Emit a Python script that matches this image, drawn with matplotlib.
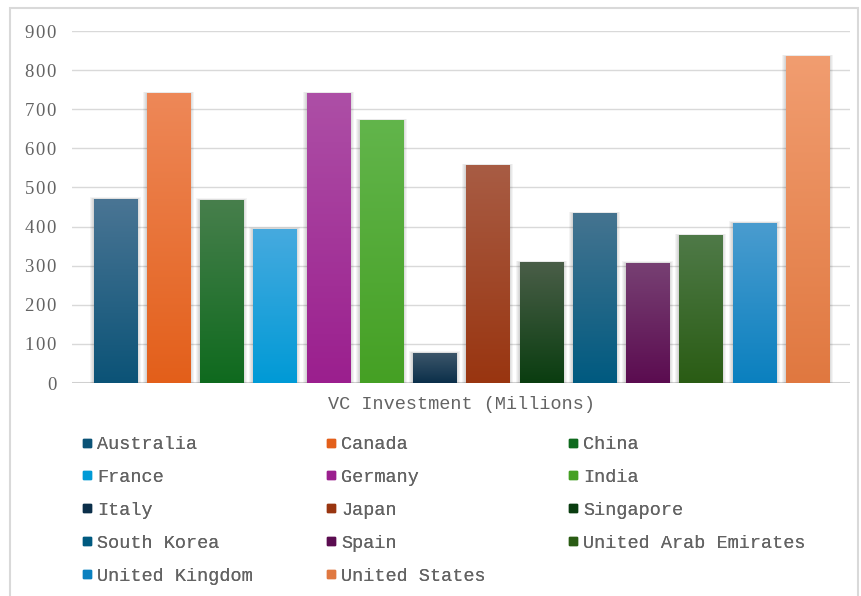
import numpy as np
import matplotlib
matplotlib.use("Agg")
import matplotlib.pyplot as plt
from matplotlib.colors import LinearSegmentedColormap
from matplotlib.lines import Line2D
from matplotlib.patches import Rectangle
from matplotlib.ticker import FuncFormatter

countries = ["Australia", "Canada", "China", "France", "Germany", "India", "Italy",
             "Japan", "Singapore", "South Korea", "Spain", "United Arab Emirates",
             "United Kingdom", "United States"]
investment = [470, 740, 467, 393, 740, 671, 76, 556, 308, 433, 306, 377, 408, 834]

top_colors = ["#4a7594", "#ee8858", "#477f4c", "#46aadf", "#ad4fa6", "#62b54b", "#3c566a",
              "#a85c44", "#4a5e48", "#457490", "#774073", "#4f7a48", "#4a9ccf", "#f19d70"]
bottom_colors = ["#0b5377", "#e35f1a", "#0f6a1e", "#009ad6", "#9b1f8e", "#45a024", "#0b2f4a",
                 "#993510", "#0a3d10", "#005a80", "#5b0c50", "#2a5c14", "#0a80bf", "#e07840"]

W, H = 861, 596
grey_text = "#636363"
mono = "Liberation Mono"
serif = ["Liberation Serif", "DejaVu Serif"]

fig = plt.figure(figsize=(W / 100, H / 100), dpi=100)
ax = fig.add_axes([72 / W, 1 - 383 / H, (850 - 72) / W, (383 - 31) / H])

x = np.arange(len(countries))
bars = ax.bar(x, investment, width=0.81, color="none", zorder=3)

px_x = 1 / 53.26
px_y = 900 / 352
for b, c_top, c_bot in zip(bars, top_colors, bottom_colors):
    x0, w, h = b.get_x(), b.get_width(), b.get_height()
    # soft shadow around the bar
    for k in (4, 3, 2, 1):
        ax.add_patch(Rectangle((x0 - k * px_x, -k * 0.7 * px_y), w + 2 * k * px_x,
                               h + k * 1.2 * px_y, color="#000000", alpha=0.045,
                               lw=0, zorder=2.5))
    cmap = LinearSegmentedColormap.from_list("bar", [c_bot, c_top])
    ax.imshow(np.linspace(0, 1, 256).reshape(-1, 1), cmap=cmap, origin="lower",
              extent=[x0, x0 + w, 0, h], aspect="auto", zorder=3)

ax.set_xlim(-0.81, 13.8)
ax.set_ylim(0, 900)
ax.set_yticks(range(0, 1000, 100))
# spaced-out digits like the original
ax.yaxis.set_major_formatter(FuncFormatter(lambda v, p: "\u200a".join(f"{v:.0f}")))
ax.yaxis.grid(True, color="#d9d9d9", lw=1)
ax.set_axisbelow(True)
ax.axhline(0, color="#d0d0d0", lw=2.2, zorder=2)
for s in ax.spines.values():
    s.set_visible(False)
ax.set_xticks([])
ax.tick_params(axis="y", length=0, pad=11, labelcolor=grey_text)
for lab in ax.get_yticklabels():
    lab.set_fontfamily(serif)
    lab.set_fontsize(13.5)

ax.set_xlabel("VC Investment (Millions)", fontfamily=mono, fontsize=13.3,
              color=grey_text, labelpad=9.5)

# legend, three columns filled row by row
ncols = 3
col_x = [83, 327, 569]
for c in range(ncols):
    idx = list(range(c, len(countries), ncols))
    handles = [Line2D([], [], marker="s", ms=5.2, ls="none", color=bottom_colors[i])
               for i in idx]
    labels = [countries[i] for i in idx]
    leg = fig.legend(handles, labels, loc="upper left",
                     bbox_to_anchor=(col_x[c] / W, 1 - 436 / H),
                     frameon=False, borderpad=0, borderaxespad=0,
                     handlelength=0.4, handletextpad=0.35, labelspacing=0.86,
                     prop={"family": mono, "size": 13.3}, labelcolor=grey_text)
    fig.add_artist(leg)

fig.add_artist(Rectangle((10 / W, -0.01), (858 - 10) / W, (596 - 8) / H + 0.01,
                         transform=fig.transFigure, fill=False, ec="#d9d9d9", lw=1.5))

fig.savefig("out.png", dpi=100)
